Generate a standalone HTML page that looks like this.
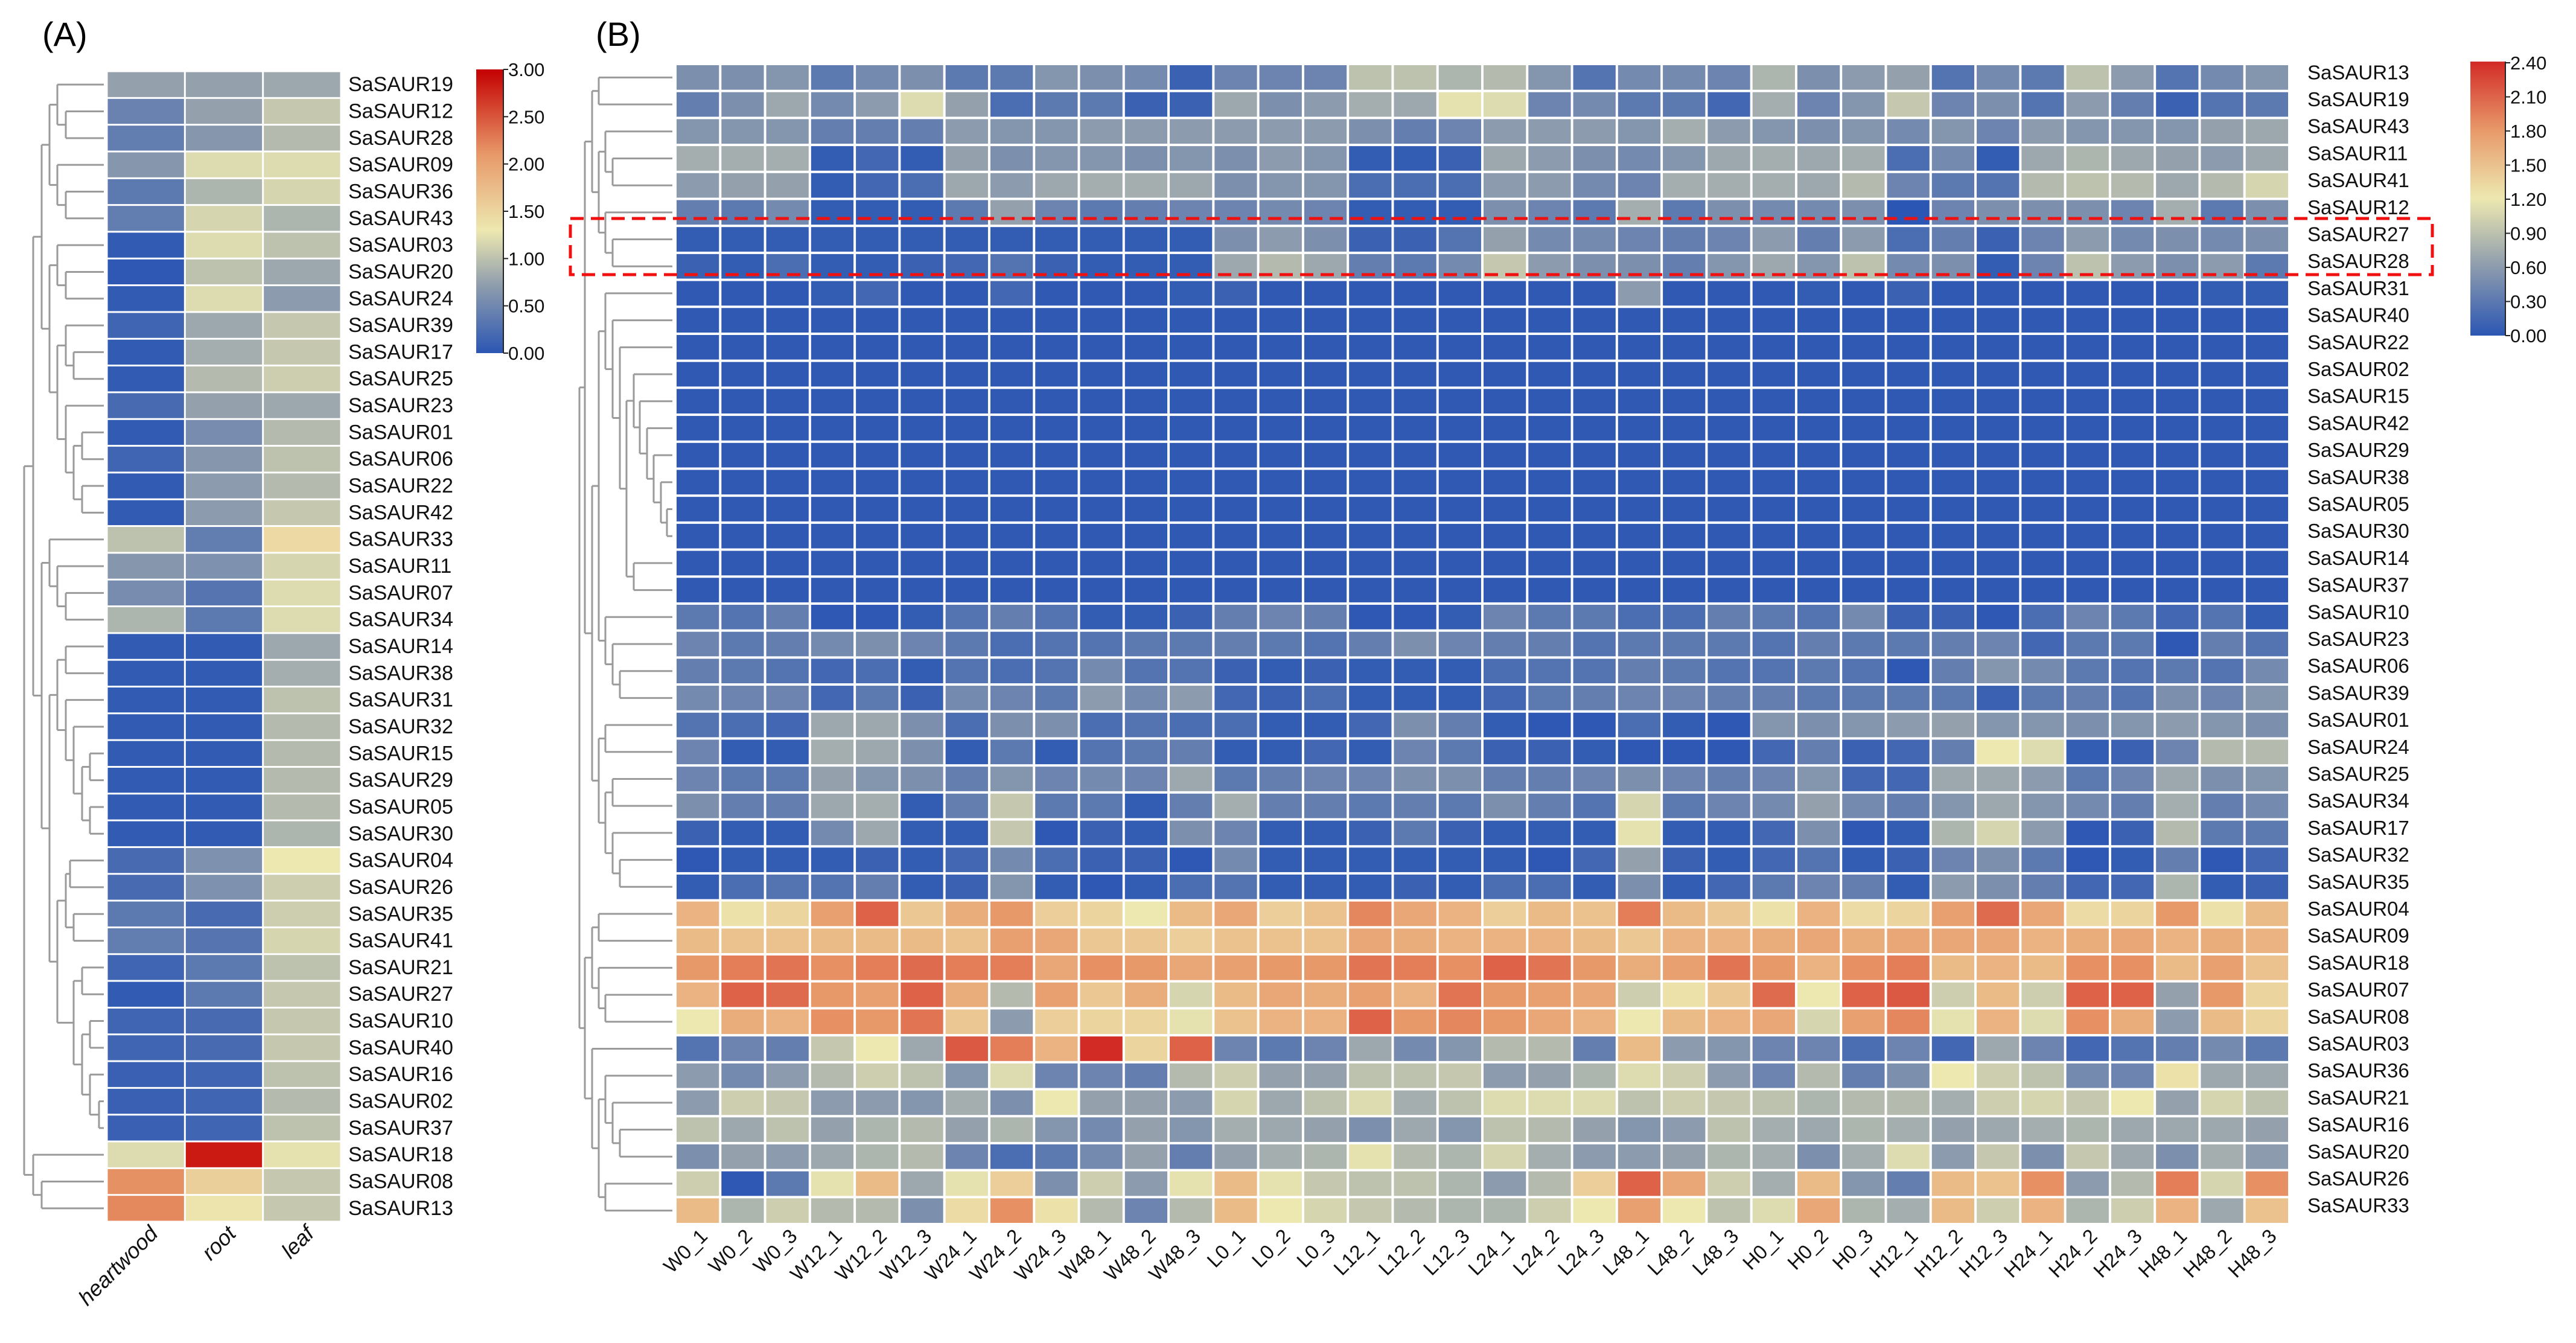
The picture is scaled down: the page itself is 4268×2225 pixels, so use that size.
<!DOCTYPE html>
<html><head><meta charset="utf-8"><style>
html,body{margin:0;padding:0;background:#fff;}
svg{display:block;font-family:"Liberation Sans",Arial,sans-serif;}
</style></head><body>
<svg id="fig" xmlns="http://www.w3.org/2000/svg" width="4268" height="2225" viewBox="0 0 4268 2225">
<defs>
<linearGradient id="gradB" x1="0" y1="1" x2="0" y2="0">
<stop offset="0" stop-color="#2b56b3"/><stop offset="0.25" stop-color="#8c9bad"/><stop offset="0.5" stop-color="#ede8b0"/><stop offset="0.75" stop-color="#e8996a"/><stop offset="1" stop-color="#d22b26"/>
</linearGradient>
<linearGradient id="gradA" x1="0" y1="1" x2="0" y2="0">
<stop offset="0" stop-color="#2b56b3"/><stop offset="0.233" stop-color="#8c9bad"/><stop offset="0.433" stop-color="#ede8b0"/><stop offset="0.7" stop-color="#e8996a"/><stop offset="1" stop-color="#c40000"/>
</linearGradient>
</defs>
<text x="70" y="76" font-size="56">(A)</text>
<text x="987" y="76" font-size="56">(B)</text>
<g id="gA"></g>
<g id="gB"></g>
</svg>
<script>
// ---------- Panel A data ----------
const rowsA = ["SaSAUR19","SaSAUR12","SaSAUR28","SaSAUR09","SaSAUR36","SaSAUR43","SaSAUR03","SaSAUR20","SaSAUR24","SaSAUR39","SaSAUR17","SaSAUR25","SaSAUR23","SaSAUR01","SaSAUR06","SaSAUR22","SaSAUR42","SaSAUR33","SaSAUR11","SaSAUR07","SaSAUR34","SaSAUR14","SaSAUR38","SaSAUR31","SaSAUR32","SaSAUR15","SaSAUR29","SaSAUR05","SaSAUR30","SaSAUR04","SaSAUR26","SaSAUR35","SaSAUR41","SaSAUR21","SaSAUR27","SaSAUR10","SaSAUR40","SaSAUR16","SaSAUR02","SaSAUR37","SaSAUR18","SaSAUR08","SaSAUR13"];
const colsA = ["heartwood","root","leaf"];
const heartwood = [0.75,0.45,0.4,0.65,0.35,0.4,0.05,0.02,0.05,0.15,0.05,0.05,0.2,0.05,0.15,0.05,0.05,1.0,0.65,0.55,0.9,0.05,0.05,0.05,0.05,0.05,0.05,0.05,0.05,0.2,0.2,0.35,0.4,0.15,0.05,0.15,0.15,0.1,0.1,0.1,1.2,2.15,2.2];
const root = [0.75,0.75,0.65,1.2,0.9,1.15,1.2,1.0,1.2,0.8,0.85,0.95,0.75,0.55,0.65,0.7,0.7,0.4,0.6,0.3,0.35,0.05,0.05,0.05,0.05,0.05,0.05,0.05,0.05,0.6,0.6,0.2,0.3,0.35,0.35,0.2,0.2,0.15,0.15,0.15,2.85,1.55,1.35];
const leaf = [0.8,1.05,0.95,1.2,1.15,0.9,1.0,0.8,0.7,1.05,1.05,1.1,0.8,0.95,1.0,0.95,1.05,1.45,1.15,1.2,1.2,0.8,0.85,1.0,0.95,0.95,0.95,0.95,0.9,1.3,1.1,1.1,1.15,1.0,1.05,1.05,1.05,1.0,0.95,1.0,1.25,1.05,1.05];
const ticksA = ["3.00","2.50","2.00","1.50","1.00","0.50","0.00"];
const treeA = [40,[55,[69,[82,[95,0,[109,1,2]],[95,3,[109,4,5]]],[82,[95,6,[109,7,8]],[95,[109,9,[122,10,11]],[109,12,[122,[136,13,14],[136,15,16]]]]]],[69,[82,17,[95,18,[109,19,20]]],[82,[95,[109,21,22],[109,23,[122,24,[136,[149,25,26],[149,27,28]]]]],[95,[109,[116,29,30],[122,31,32]],[122,[136,33,34],[136,[149,35,36],[149,37,[164,38,39]]]]]]]],[55,40,[69,41,42]]];

// ---------- Panel B data ----------
const rowsB = ["SaSAUR13","SaSAUR19","SaSAUR43","SaSAUR11","SaSAUR41","SaSAUR12","SaSAUR27","SaSAUR28","SaSAUR31","SaSAUR40","SaSAUR22","SaSAUR02","SaSAUR15","SaSAUR42","SaSAUR29","SaSAUR38","SaSAUR05","SaSAUR30","SaSAUR14","SaSAUR37","SaSAUR10","SaSAUR23","SaSAUR06","SaSAUR39","SaSAUR01","SaSAUR24","SaSAUR25","SaSAUR34","SaSAUR17","SaSAUR32","SaSAUR35","SaSAUR04","SaSAUR09","SaSAUR18","SaSAUR07","SaSAUR08","SaSAUR03","SaSAUR36","SaSAUR21","SaSAUR16","SaSAUR20","SaSAUR26","SaSAUR33"];
const colsB = ["W0_1","W0_2","W0_3","W12_1","W12_2","W12_3","W24_1","W24_2","W24_3","W48_1","W48_2","W48_3","L0_1","L0_2","L0_3","L12_1","L12_2","L12_3","L24_1","L24_2","L24_3","L48_1","L48_2","L48_3","H0_1","H0_2","H0_3","H12_1","H12_2","H12_3","H24_1","H24_2","H24_3","H48_1","H48_2","H48_3"];
const ticksB = ["2.40","2.10","1.80","1.50","1.20","0.90","0.60","0.30","0.00"];
const B = "0.03,0.03,0.03,0.03,0.03,0.03,0.03,0.03,0.03,0.03,0.03,0.03,0.03,0.03,0.03,0.03,0.03,0.03,0.03,0.03,0.03,0.03,0.03,0.03,0.03,0.03,0.03,0.03,0.03,0.03,0.03,0.03,0.03,0.03,0.03,0.03";
const valsB = [
[0.5,0.5,0.55,0.3,0.45,0.5,0.3,0.3,0.55,0.5,0.45,0.1,0.4,0.4,0.4,0.9,0.9,0.8,0.85,0.55,0.25,0.45,0.45,0.4,0.8,0.5,0.6,0.65,0.25,0.45,0.3,0.9,0.6,0.25,0.45,0.55],
[0.35,0.5,0.7,0.45,0.6,1.1,0.65,0.2,0.3,0.3,0.1,0.1,0.7,0.5,0.6,0.75,0.7,1.15,1.1,0.4,0.45,0.3,0.3,0.15,0.75,0.4,0.55,0.95,0.4,0.5,0.25,0.6,0.35,0.1,0.25,0.3],
[0.55,0.55,0.55,0.35,0.35,0.35,0.6,0.55,0.55,0.6,0.6,0.6,0.6,0.6,0.6,0.5,0.35,0.4,0.6,0.6,0.6,0.55,0.75,0.6,0.55,0.5,0.55,0.45,0.55,0.4,0.6,0.55,0.55,0.55,0.65,0.7],
[0.75,0.75,0.75,0.05,0.15,0.05,0.65,0.5,0.55,0.55,0.5,0.55,0.5,0.6,0.55,0.05,0.05,0.1,0.7,0.6,0.5,0.45,0.55,0.7,0.75,0.7,0.75,0.2,0.45,0.05,0.7,0.8,0.7,0.65,0.6,0.7],
[0.6,0.65,0.65,0.05,0.15,0.2,0.7,0.6,0.7,0.75,0.75,0.7,0.5,0.55,0.55,0.2,0.2,0.2,0.6,0.6,0.45,0.4,0.75,0.75,0.75,0.7,0.85,0.4,0.3,0.25,0.85,0.9,0.85,0.7,0.85,1.05],
[0.35,0.3,0.45,0.05,0.05,0.05,0.3,0.65,0.4,0.3,0.35,0.4,0.4,0.45,0.4,0.05,0.05,0.05,0.5,0.4,0.3,0.75,0.3,0.5,0.45,0.45,0.5,0.0,0.4,0.5,0.5,0.5,0.4,0.75,0.3,0.5],
[0.05,0.05,0.05,0.05,0.05,0.05,0.05,0.05,0.05,0.05,0.05,0.05,0.5,0.6,0.5,0.1,0.1,0.25,0.65,0.45,0.45,0.4,0.35,0.4,0.6,0.35,0.6,0.2,0.35,0.1,0.4,0.6,0.45,0.5,0.45,0.5],
[0.1,0.05,0.2,0.05,0.05,0.1,0.15,0.25,0.1,0.05,0.05,0.05,0.7,0.85,0.7,0.35,0.3,0.45,0.95,0.6,0.5,0.5,0.35,0.55,0.7,0.55,0.9,0.45,0.5,0.05,0.4,0.9,0.6,0.5,0.6,0.3],
[0.03,0.03,0.03,0.05,0.15,0.03,0.03,0.15,0.03,0.03,0.03,0.05,0.1,0.03,0.03,0.03,0.03,0.03,0.03,0.03,0.03,0.6,0.03,0.03,0.03,0.05,0.03,0.1,0.03,0.03,0.03,0.03,0.03,0.03,0.05,0.05],
B.split(",").map(Number),B.split(",").map(Number),B.split(",").map(Number),B.split(",").map(Number),B.split(",").map(Number),B.split(",").map(Number),B.split(",").map(Number),B.split(",").map(Number),B.split(",").map(Number),B.split(",").map(Number),B.split(",").map(Number),
[0.3,0.25,0.35,0.02,0.02,0.05,0.25,0.35,0.25,0.05,0.05,0.1,0.35,0.4,0.35,0.02,0.02,0.05,0.4,0.3,0.3,0.2,0.2,0.35,0.3,0.25,0.45,0.1,0.1,0.02,0.2,0.4,0.3,0.15,0.25,0.05],
[0.4,0.3,0.35,0.45,0.5,0.4,0.3,0.2,0.25,0.25,0.3,0.3,0.35,0.3,0.25,0.35,0.5,0.4,0.35,0.35,0.25,0.3,0.3,0.3,0.25,0.35,0.3,0.3,0.35,0.4,0.15,0.3,0.3,0.02,0.35,0.25],
[0.35,0.3,0.25,0.15,0.2,0.05,0.25,0.2,0.25,0.45,0.25,0.25,0.1,0.05,0.1,0.05,0.05,0.05,0.2,0.25,0.25,0.35,0.3,0.25,0.25,0.3,0.25,0.02,0.35,0.55,0.45,0.3,0.25,0.3,0.25,0.45],
[0.45,0.4,0.4,0.15,0.3,0.1,0.45,0.4,0.3,0.6,0.45,0.6,0.15,0.1,0.2,0.05,0.05,0.05,0.15,0.3,0.35,0.4,0.4,0.35,0.35,0.3,0.3,0.3,0.3,0.1,0.3,0.35,0.25,0.5,0.4,0.55],
[0.25,0.2,0.15,0.7,0.7,0.5,0.2,0.5,0.5,0.2,0.25,0.2,0.2,0.05,0.05,0.15,0.5,0.35,0.05,0.02,0.02,0.2,0.05,0.02,0.55,0.5,0.55,0.6,0.65,0.55,0.55,0.5,0.55,0.6,0.55,0.5],
[0.4,0.05,0.05,0.75,0.7,0.5,0.05,0.3,0.05,0.25,0.3,0.35,0.05,0.05,0.15,0.05,0.4,0.3,0.1,0.1,0.05,0.02,0.02,0.02,0.15,0.35,0.1,0.15,0.35,1.2,1.1,0.05,0.1,0.4,0.85,0.85],
[0.4,0.3,0.3,0.65,0.55,0.5,0.35,0.55,0.4,0.45,0.4,0.7,0.3,0.35,0.4,0.4,0.5,0.5,0.35,0.35,0.4,0.5,0.4,0.35,0.4,0.55,0.15,0.15,0.7,0.7,0.6,0.3,0.4,0.7,0.5,0.55],
[0.5,0.35,0.35,0.7,0.75,0.05,0.35,0.95,0.3,0.3,0.05,0.35,0.75,0.35,0.35,0.3,0.35,0.3,0.5,0.35,0.25,1.05,0.3,0.4,0.45,0.65,0.45,0.35,0.55,0.7,0.55,0.45,0.35,0.75,0.35,0.45],
[0.1,0.05,0.05,0.45,0.7,0.05,0.05,0.95,0.02,0.1,0.05,0.5,0.4,0.05,0.05,0.1,0.3,0.1,0.05,0.05,0.05,1.15,0.05,0.05,0.15,0.5,0.02,0.05,0.8,1.05,0.6,0.02,0.1,0.85,0.3,0.3],
[0.02,0.05,0.05,0.05,0.1,0.05,0.15,0.45,0.2,0.1,0.1,0.02,0.45,0.05,0.05,0.05,0.05,0.05,0.05,0.02,0.15,0.65,0.1,0.05,0.15,0.25,0.05,0.1,0.4,0.5,0.3,0.02,0.05,0.35,0.02,0.15],
[0.05,0.2,0.25,0.25,0.35,0.05,0.1,0.55,0.05,0.02,0.05,0.2,0.25,0.05,0.05,0.05,0.1,0.05,0.2,0.2,0.05,0.5,0.05,0.15,0.3,0.4,0.35,0.05,0.6,0.5,0.35,0.15,0.15,0.8,0.05,0.1],
[1.6,1.25,1.35,1.75,2.1,1.45,1.65,1.8,1.4,1.35,1.2,1.55,1.7,1.4,1.5,1.9,1.7,1.6,1.4,1.55,1.5,1.95,1.55,1.45,1.25,1.6,1.3,1.35,1.75,2.05,1.7,1.3,1.35,1.8,1.25,1.55],
[1.55,1.5,1.5,1.55,1.55,1.55,1.5,1.75,1.7,1.45,1.45,1.4,1.5,1.5,1.5,1.7,1.65,1.6,1.6,1.6,1.55,1.45,1.6,1.6,1.65,1.7,1.65,1.7,1.7,1.7,1.6,1.65,1.7,1.6,1.65,1.6],
[1.8,1.95,2.0,1.85,1.95,2.05,1.95,1.95,1.7,1.85,1.8,1.7,1.75,1.8,1.8,2.0,1.95,1.85,2.1,2.0,1.8,1.65,1.75,2.0,1.8,1.6,1.85,1.95,1.55,1.6,1.55,1.85,1.85,1.55,1.75,1.5],
[1.6,2.1,2.05,1.8,1.75,2.1,1.65,0.85,1.75,1.45,1.65,1.05,1.55,1.7,1.65,1.75,1.6,2.0,1.8,1.75,1.7,1.0,1.25,1.45,2.05,1.2,2.1,2.15,1.0,1.55,1.0,2.1,2.1,0.65,1.8,1.35],
[1.2,1.65,1.6,1.85,1.8,2.0,1.45,0.6,1.4,1.35,1.35,1.15,1.5,1.6,1.6,2.1,1.8,1.9,1.8,1.7,1.6,1.2,1.55,1.6,1.7,1.05,1.75,1.9,1.15,1.6,1.1,1.85,1.65,0.6,1.55,1.35],
[0.25,0.4,0.35,0.95,1.2,0.7,2.15,1.95,1.6,2.4,1.35,2.1,0.4,0.3,0.4,0.7,0.45,0.55,0.85,0.85,0.35,1.55,0.6,0.55,0.4,0.4,0.2,0.4,0.15,0.7,0.4,0.15,0.25,0.35,0.45,0.3],
[0.6,0.45,0.6,0.85,1.0,0.9,0.55,1.1,0.4,0.4,0.35,0.85,1.0,0.65,0.65,0.9,0.9,0.95,0.6,0.65,0.8,1.1,1.0,0.6,0.4,0.85,0.35,0.5,1.2,1.0,0.9,0.45,0.4,1.25,0.7,0.7],
[0.6,1.0,0.95,0.6,0.6,0.55,0.75,0.5,1.2,0.65,0.65,0.6,1.05,0.7,0.9,1.1,0.75,0.9,1.1,1.1,1.1,0.9,1.0,0.95,0.9,0.8,0.85,0.85,0.75,1.0,1.05,0.95,1.2,0.65,1.05,0.9],
[0.9,0.7,0.9,0.65,0.8,0.85,0.65,0.8,0.55,0.45,0.65,0.55,0.75,0.7,0.65,0.5,0.7,0.55,0.9,0.85,0.65,0.55,0.6,0.9,0.75,0.7,0.8,0.75,0.65,0.7,0.75,0.8,0.7,0.7,0.7,0.65],
[0.5,0.65,0.6,0.7,0.8,0.85,0.4,0.2,0.3,0.45,0.65,0.35,0.65,0.75,0.8,1.15,0.85,0.8,1.05,0.75,0.6,0.6,0.65,0.8,0.75,0.5,0.75,1.1,0.6,0.95,0.5,0.95,0.7,0.5,0.75,0.6],
[1.0,0.02,0.3,1.15,1.55,0.7,1.15,1.4,0.5,1.0,0.6,1.15,1.55,1.15,0.95,0.9,0.9,0.8,0.6,0.85,1.4,2.1,1.7,1.0,0.75,1.55,0.55,0.35,1.55,1.5,1.85,0.6,0.85,1.95,1.05,1.85],
[1.55,0.8,1.0,0.85,0.85,0.5,1.3,1.85,1.25,0.85,0.4,0.85,1.55,1.2,1.05,0.95,0.85,0.8,0.8,1.0,1.2,1.75,1.2,0.9,1.1,1.7,0.8,0.75,1.55,1.0,1.6,0.8,1.0,1.6,0.7,1.5]
];
const treeB = [960,[969,[981,[992,0,1],[992,[1003,2,[1015,3,4]],[1003,5,[1015,6,7]]]],[981,[992,[1003,8,[1015,9,[1027,10,[1038,[1050,11,[1060,12,[1072,13,[1083,14,[1095,15,[1105,16,17]]]]]],[1050,18,19]]]]],[1003,20,[1015,21,[1027,22,23]]]],[992,[1003,24,25],[1003,[1015,26,27],[1015,28,[1027,29,30]]]]]],[969,[981,[992,31,32],[992,33,[1003,34,35]]],[981,36,[992,[1003,37,[1015,38,[1027,39,40]]],[1003,41,42]]]]];

// ---------- helpers ----------
const NS = "http://www.w3.org/2000/svg";
function mk(tag, attrs, parent){const e=document.createElementNS(NS,tag);for(const k in attrs)e.setAttribute(k,attrs[k]);parent.appendChild(e);return e;}
function lerp(a,b,t){return Math.round(a+(b-a)*t);}
function cmap(v, stops){
  for(let i=1;i<stops.length;i++){ if(v<=stops[i][0]||i===stops.length-1){
    const s0=stops[i-1], s1=stops[i]; let t=(v-s0[0])/(s1[0]-s0[0]); t=Math.max(0,Math.min(1,t));
    return "rgb("+lerp(s0[1][0],s1[1][0],t)+","+lerp(s0[1][1],s1[1][1],t)+","+lerp(s0[1][2],s1[1][2],t)+")";}}
}
const C0=[43,86,179],C1=[140,155,173],C2=[237,232,176],C3=[232,153,106],C4=[210,43,38];
const stopsB=[[0,C0],[0.6,C1],[1.2,C2],[1.8,C3],[2.4,C4]];
const stopsA=[[0,C0],[0.7,C1],[1.3,C2],[2.1,C3],[3.0,[196,0,0]]];
function drawTree(node, g, yOf, leafX){
  if(typeof node==="number") return {x:leafX, y:yOf(node)};
  const x=node[0]; const a=drawTree(node[1],g,yOf,leafX), b=drawTree(node[2],g,yOf,leafX);
  const l1=mk("line",{x1:a.x,y1:a.y,x2:x,y2:a.y,stroke:"#9a9a9a","stroke-width":3},g);
  
  
  const l2=mk("line",{x1:b.x,y1:b.y,x2:x,y2:b.y,stroke:"#9a9a9a","stroke-width":3},g);
  
  
  const l3=mk("line",{x1:x,y1:a.y,x2:x,y2:b.y,stroke:"#9a9a9a","stroke-width":3},g);
  
  
  return {x:x, y:(a.y+b.y)/2};
}

// ---------- Panel A ----------
(function(){
  const g=document.getElementById("gA");
  const x0=177,x1=565,y0=118,y1=2024, cw=(x1-x0)/colsA.length, rh=(y1-y0)/rowsA.length;
  const colVals=[heartwood,root,leaf];
  const xA=i=>x0+i*cw, yA=r=>y0+r*rh;
  rowsA.forEach((name,r)=>{
    colVals.forEach((arr,c)=>{
      const rc=mk("rect",{x:xA(c)+1.5,y:yA(r)+1.5,width:cw-3,height:rh-3,fill:cmap(arr[r],stopsA)},g);
      
      
    });
    const t=mk("text",{x:x1+12,y:yA(r)+rh/2+11,"font-size":34,fill:"#111"},g);
    t.textContent=name;
    
    
  });
  colsA.forEach((c,i)=>{
    const cx=xA(i)+cw/2+22, cy=2046;
    const t=mk("text",{x:cx,y:cy,"font-size":36,"font-style":"italic","text-anchor":"end",transform:"rotate(-45 "+cx+" "+cy+")",fill:"#111"},g);
    t.textContent=c;
    
    
  });
  const tg=mk("g",{},g);
  
  
  drawTree(treeA,tg,r=>yA(r)+rh/2,172);
  const cb=mk("rect",{x:789,y:115,width:44,height:470,fill:"url(#gradA)"},g);
  
  
  mk("line",{x1:834,y1:115,x2:834,y2:585,stroke:"#222","stroke-width":2},g);
  ticksA.forEach((lab,i)=>{
    const y=115+i*(470/(ticksA.length-1));
    mk("line",{x1:834,y1:y,x2:842,y2:y,stroke:"#222","stroke-width":2},g);
    const t=mk("text",{x:842,y:y+11,"font-size":31,fill:"#111"},g);
    t.textContent=lab;
    
    
  });
})();

// ---------- Panel B ----------
(function(){
  const g=document.getElementById("gB");
  const x0=1119,x1=3793,y0=106,y1=2028, cw=(x1-x0)/colsB.length, rh=(y1-y0)/rowsB.length;
  const xB=i=>x0+i*cw, yB=r=>y0+r*rh;
  rowsB.forEach((name,r)=>{
    colsB.forEach((cn,c)=>{
      const rc=mk("rect",{x:xB(c)+2,y:yB(r)+2,width:cw-4,height:rh-4,fill:cmap(valsB[r][c],stopsB)},g);
      
      
    });
    const t=mk("text",{x:3823,y:yB(r)+rh/2+3,"font-size":33,fill:"#111"},g);
    t.textContent=name;
    
    
  });
  colsB.forEach((c,i)=>{
    const cx=xB(i)+cw/2+18, cy=2050;
    const t=mk("text",{x:cx,y:cy,"font-size":33,"text-anchor":"end",transform:"rotate(-45 "+cx+" "+cy+")",fill:"#111"},g);
    t.textContent=c;
    
    
  });
  const tg=mk("g",{},g);
  
  
  drawTree(treeB,tg,r=>yB(r)+rh/2,1114);
  const box=mk("rect",{x:945,y:362,width:3085,height:93,fill:"none",stroke:"#f01010","stroke-width":5,"stroke-dasharray":"22 12"},g);
  
  
  const cb=mk("rect",{x:4093,y:102,width:57,height:454,fill:"url(#gradB)"},g);
  
  
  mk("line",{x1:4151,y1:102,x2:4151,y2:556,stroke:"#222","stroke-width":2},g);
  ticksB.forEach((lab,i)=>{
    const y=104+i*(452/(ticksB.length-1));
    mk("line",{x1:4151,y1:y,x2:4159,y2:y,stroke:"#222","stroke-width":2},g);
    const t=mk("text",{x:4159,y:y+11,"font-size":31,fill:"#111"},g);
    t.textContent=lab;
    
    
  });
})();
</script>
</body></html>
